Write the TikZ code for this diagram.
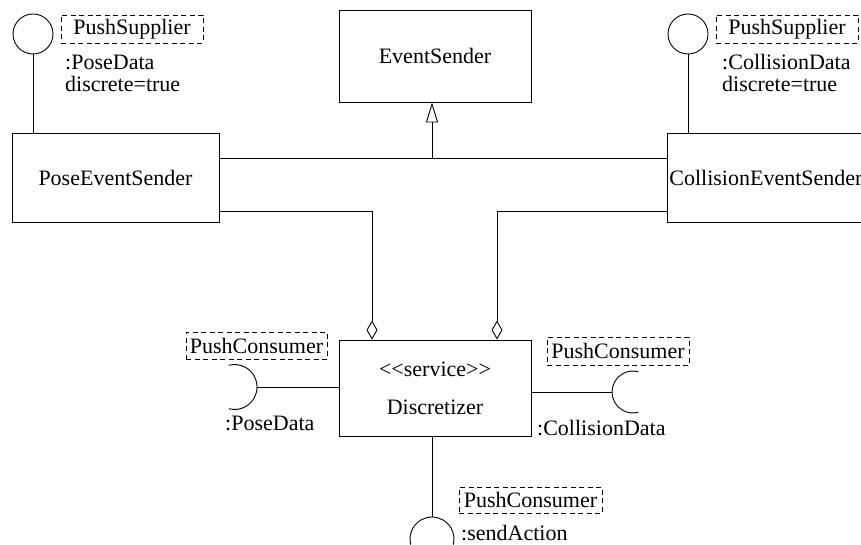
\documentclass[tikz,border=0pt]{standalone}
\usepackage{fontspec}
\setmainfont{Liberation Serif}
\usetikzlibrary{arrows.meta}
\begin{document}
\begin{tikzpicture}[x=1pt,y=1pt,
  every node/.style={font=\fontsize{22}{22}\selectfont, inner sep=0pt},
  ln/.style={line width=0.9pt},
  box/.style={draw, line width=0.9pt, align=center},
  dbox/.style={draw, line width=0.8pt, dash pattern=on 5pt off 3.5pt, inner sep=2pt},
  iface/.style={draw, circle, line width=0.9pt, minimum size=40pt},
  lbl/.style={anchor=base west},
  tri/.style={ln, -{Triangle[open, length=20pt, width=12pt]}},
  dia/.style={ln, -{Diamond[open, length=19pt, width=11pt]}}]
\useasboundingbox (0,0) rectangle (861,544);
% classes
\node[box, minimum width=207pt, minimum height=89pt] (pes) at (115.5,366.5) {PoseEventSender};
\node[box, minimum width=192pt, minimum height=92pt] (es) at (435,488) {EventSender};
\node[box, minimum width=197pt, minimum height=89pt, anchor=west] (ces) at (667,366.5) {CollisionEventSender};
\node[box, minimum width=192pt, minimum height=96pt] (disc) at (435,156) {<\kern0pt<service>\kern0pt>\\[16pt]Discretizer};
% provided interfaces
\node[iface] (c1) at (33,510) {};
\node[iface] (c2) at (688,510) {};
\node[dbox, minimum width=142pt, minimum height=28pt] (ps1) at (132,515) {PushSupplier};
\node[dbox, minimum width=142pt, minimum height=28pt] (ps2) at (787,515) {PushSupplier};
\node[lbl] (pd1) at (65,474) {:PoseData};
\node[lbl] (dt1) at (65,452) {discrete=true};
\node[lbl] (cd1) at (722,474) {:CollisionData};
\node[lbl] (dt2) at (722,452) {discrete=true};
\draw[ln] (c1.south) -- (c1 |- pes.north);
\draw[ln] (c2.south) -- (c2 |- ces.north);
% generalization
\draw[ln] ([yshift=19.5pt]pes.east) -- ([yshift=19.5pt]ces.west);
\coordinate (j1) at (432,386);
\draw[tri] (j1) -- (j1 |- es.south);
% aggregations
\draw[dia] ([yshift=-33.5pt]pes.east) -| ([xshift=-63pt]disc.north);
\draw[dia] ([yshift=-33.5pt]ces.west) -| ([xshift=62pt]disc.north);
% required interfaces
\coordinate (s1) at (257,157);
\coordinate (s2) at (612,152);
\coordinate (s3) at (432,27);
\draw[ln] (disc.west |- s1) -- (s1);
\draw[ln] (s1) arc[start angle=0, end angle=105, radius=22.5pt];
\draw[ln] (s1) arc[start angle=0, end angle=-105, radius=22.5pt];
\draw[ln] (disc.east |- s2) -- (s2);
\draw[ln] (s2) arc[start angle=180, end angle=75, radius=21pt];
\draw[ln] (s2) arc[start angle=180, end angle=285, radius=21pt];
\draw[ln] (disc.south -| s3) -- (s3);
\draw[ln] (s3) arc[start angle=90, end angle=-15, radius=22pt];
\draw[ln] (s3) arc[start angle=90, end angle=195, radius=22pt];
\node[dbox, minimum width=141pt, minimum height=27pt] (pc1) at (256.5,198.5) {PushConsumer};
\node[dbox, minimum width=142pt, minimum height=28pt] (pc2) at (618,193) {PushConsumer};
\node[dbox, minimum width=143pt, minimum height=26pt] (pc3) at (530.5,44) {PushConsumer};
\node[lbl] (pd2) at (225,114) {:PoseData};
\node[lbl] (cd2) at (537,109) {:CollisionData};
\node[lbl] (sa) at (461,4) {:sendAction};
\end{tikzpicture}
\end{document}
